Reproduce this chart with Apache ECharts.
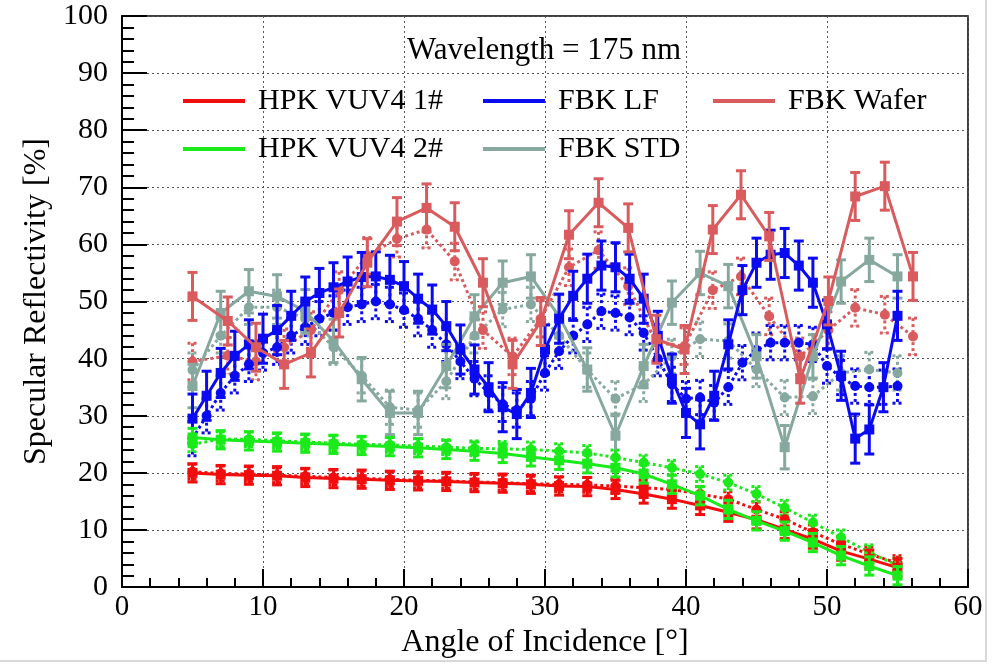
<!DOCTYPE html>
<html><head><meta charset="utf-8">
<script src="https://cdn.jsdelivr.net/npm/echarts@6/dist/echarts.min.js"></script>
<style>html,body{margin:0;padding:0;background:#fff}#c{width:1000px;height:664px}</style>
</head><body><div id="c"></div><script>
// ---- data ----
const titleText = 'Wavelength = 175 nm';
const xTicks = [0, 10, 20, 30, 40, 50, 60];
const yTicks = [0, 10, 20, 30, 40, 50, 60, 70, 80, 90, 100];

const angleHPK = [5,7,9,11,13,15,17,19,21,23,25,27,29,31,33,35,37,39,41,43,45,47,49,51,53,55];
const hpk1   = [20.0,19.7,19.6,19.5,19.2,19.0,18.9,18.7,18.6,18.5,18.3,18.2,18.0,17.7,17.6,17.1,16.3,15.4,14.3,13.1,11.8,10.1,8.4,6.3,4.9,3.4];
const hpk1b  = [20.2,19.9,19.8,19.6,19.4,19.2,19.0,18.9,18.7,18.6,18.4,18.3,18.1,18.0,17.9,17.7,17.4,17.1,16.3,15.4,13.6,11.9,9.6,7.5,5.8,4.2];
const hpk2   = [26.2,25.8,25.6,25.4,25.2,25.0,24.8,24.6,24.4,24.1,23.8,23.4,22.8,22.2,21.6,20.9,19.8,18.0,16.0,13.6,11.6,9.8,7.8,5.5,3.7,2.0];
const hpk2b  = [25.0,25.9,25.9,25.6,25.4,25.2,25.0,24.9,24.7,24.5,24.3,24.2,24.1,23.8,23.5,22.7,21.8,20.9,19.8,18.3,16.3,13.9,11.3,8.7,6.1,3.8];

const angleLF = [5,6,7,8,9,10,11,12,13,14,15,16,17,18,19,20,21,22,23,24,25,26,27,28,29,30,31,32,33,34,35,36,37,38,39,40,41,42,43,44,45,46,47,48,49,50,51,52,53,54,55];
const fbkLF  = [29.5,33.5,37.5,40.5,42.5,43.5,45,47.5,50,51.5,52.5,53.5,54.3,54.4,53.8,52.7,50.5,48.6,45.7,41.6,38.1,35,31.5,30.3,34,41.6,47,51,54,56.3,56,54,50.5,44,36.5,30.5,28.5,33.5,42.5,52,56.8,58.2,58.5,56.3,53.3,46,37,26,27.6,35,47.5];
const fbkLFb = [26,30,34,37,39,41,42,44,45.5,47,48,49,49.5,50,49.5,48.5,47,45,42.5,39.5,36.5,34,32,31,33,37.5,41.3,44,46,48.3,48,47.2,44.5,40,35.5,33,33.2,32.3,35,39.3,41.5,42.8,42.8,42.8,42.5,38.7,36.7,35.2,35,35,35.2];

const angleSTD = [5,7,9,11,13,15,17,19,21,23,25,27,29,31,33,35,37,39,41,43,45,47,49,51,53,55];
const fbkSTD  = [35.2,48.0,51.8,50.9,48.3,43.1,36.4,30.5,30.5,38.7,47.4,53.3,54.4,47.4,38.1,26.5,38.7,49.8,55.0,52.7,40.4,24.5,40.4,53.5,57.3,54.4];
const fbkSTDb = [38,44,49,49,47,42,37,31.5,31,36,44,48.6,49.5,44,38,33,35.5,40.4,43.4,43.1,38.1,33.2,33.4,37.5,38.1,37.5];

const angleWafer = [5,7.5,9.5,11.5,13.4,15.4,17.4,19.5,21.6,23.6,25.6,27.7,29.7,31.7,33.8,35.9,37.9,39.9,41.9,43.9,45.9,48.1,50.1,52.0,54.1,56.1];
const fbkWafer  = [50.9,46.6,42.0,39.0,41.0,48.0,56.8,64.0,66.4,63.1,53.3,39.0,46.5,61.7,67.3,62.9,43.4,41.6,62.6,68.7,61.4,36.4,50.1,68.4,70.2,54.4];
const fbkWaferb = [39.5,40.5,39.5,42,45,52,58,61,62.6,57,45,40.4,47,56,59,52.7,42.8,42.2,52,54.4,47.4,40.4,45,48.9,47.7,43.9];

// error half-widths
const errHPK = 1.6, errHPKb = 1.3;
const errLF = 4.3, errLFb = 3.0;
const errSTD = 3.8, errSTDb = 3.0;
const errWafer = 4.2, errWaferb = 3.2;

const names = ['HPK VUV4 1#', 'HPK VUV4 2#', 'FBK LF', 'FBK STD', 'FBK Wafer'];
const colors = {red:'#f20d0d', green:'#1aea1a', blue:'#0b0bf2', std:'#86a89f', wafer:'#d95b5e'};

const FONT = 'Liberation Serif';
const chart = echarts.init(document.getElementById('c'), null, {renderer:'canvas'});

function pairs(xs, ys){ return xs.map((x,i)=>[x, ys[i]]); }

function lineSeries(name, xs, ys, color, dotted, z){
  return {
    type:'line', name:name, data:pairs(xs, ys), z:z,
    symbol: dotted ? 'circle' : 'rect', symbolSize: dotted ? 10 : 10,
    showSymbol:true, animation:false, silent:true,
    lineStyle:{color:color, width:3, type: dotted ? [3,3] : 'solid'},
    itemStyle:{color:color}
  };
}
function errSeries(xs, ys, err, color, dotted, z){
  return {
    type:'custom', name:'', z:z, animation:false, silent:true,
    data: xs.map((x,i)=>[x, ys[i], err]),
    encode:{x:0, y:1},
    renderItem: function(params, api){
      const x = api.value(0), y = api.value(1), e = api.value(2);
      const t = api.coord([x, y + e]), b = api.coord([x, y - e]);
      const cap = 5;
      const st = () => ({stroke:color, lineWidth:3, lineDash: dotted ? [3,3] : null});
      return {type:'group', children:[
        {type:'line', shape:{x1:t[0], y1:t[1], x2:b[0], y2:b[1]}, style:st()},
        {type:'line', shape:{x1:t[0]-cap, y1:t[1], x2:t[0]+cap, y2:t[1]}, style:st()},
        {type:'line', shape:{x1:b[0]-cap, y1:b[1], x2:b[0]+cap, y2:b[1]}, style:st()}
      ]};
    }
  };
}

const series = [
  errSeries(angleSTD, fbkSTDb, errSTDb, colors.std, true, 2),
  lineSeries('STD b', angleSTD, fbkSTDb, colors.std, true, 2),
  errSeries(angleWafer, fbkWaferb, errWaferb, colors.wafer, true, 2),
  lineSeries('Wafer b', angleWafer, fbkWaferb, colors.wafer, true, 2),
  errSeries(angleLF, fbkLFb, errLFb, colors.blue, true, 2),
  lineSeries('LF b', angleLF, fbkLFb, colors.blue, true, 2),
  errSeries(angleSTD, fbkSTD, errSTD, colors.std, false, 3),
  lineSeries(names[3], angleSTD, fbkSTD, colors.std, false, 3),
  errSeries(angleLF, fbkLF, errLF, colors.blue, false, 4),
  lineSeries(names[2], angleLF, fbkLF, colors.blue, false, 4),
  errSeries(angleWafer, fbkWafer, errWafer, colors.wafer, false, 5),
  lineSeries(names[4], angleWafer, fbkWafer, colors.wafer, false, 5),
  errSeries(angleHPK, hpk1b, errHPKb, colors.red, true, 6),
  lineSeries('HPK1 b', angleHPK, hpk1b, colors.red, true, 6),
  errSeries(angleHPK, hpk2b, errHPKb, colors.green, true, 6),
  lineSeries('HPK2 b', angleHPK, hpk2b, colors.green, true, 6),
  errSeries(angleHPK, hpk1, errHPK, colors.red, false, 7),
  lineSeries(names[0], angleHPK, hpk1, colors.red, false, 7),
  errSeries(angleHPK, hpk2, errHPK, colors.green, false, 8),
  lineSeries(names[1], angleHPK, hpk2, colors.green, false, 8)
];

const legText = {fontFamily:FONT, fontSize:30, color:'#000', lineHeight:30, padding:[0,0,0,8]};
function legend(left, data){
  return {left:left, top:81, orient:'vertical', itemGap:18, itemWidth:62, itemHeight:4,
    icon:'rect', selectedMode:false, data:data, textStyle:legText};
}

const gridLine = {show:true, lineStyle:{color:'#555', width:1, type:[2,3]}};
chart.setOption({
  animation:false,
  backgroundColor:'#fff',
  title:{text:titleText, left:402, top:30, textStyle:{fontFamily:FONT, fontSize:31, fontWeight:'normal', color:'#000'}},
  legend:[legend(178, [names[0], names[1]]), legend(478, [names[2], names[3]]), legend(708, [names[4]])],
  grid:{left:122, right:32, top:16, bottom:76, show:true, borderColor:'#000', borderWidth:1.5, backgroundColor:'transparent'},
  xAxis:{type:'value', min:xTicks[0], max:xTicks[xTicks.length-1], interval:10,
    axisLine:{lineStyle:{color:'#000', width:2}},
    axisTick:{inside:true, length:18, lineStyle:{color:'#000', width:2}},
    minorTick:{show:true, splitNumber:5, length:9, lineStyle:{color:'#000', width:2}},
    splitLine:gridLine,
    axisLabel:{fontFamily:FONT, fontSize:29, color:'#000', margin:6},
    name:'Angle of Incidence [°]', nameLocation:'middle', nameGap:33,
    nameTextStyle:{fontFamily:FONT, fontSize:32, color:'#000'}},
  yAxis:{type:'value', min:yTicks[0], max:yTicks[yTicks.length-1], interval:10,
    axisLine:{lineStyle:{color:'#000', width:2}},
    axisTick:{inside:true, length:25, lineStyle:{color:'#000', width:2}},
    minorTick:{show:true, splitNumber:5, length:12, lineStyle:{color:'#000', width:2}},
    splitLine:gridLine,
    axisLabel:{fontFamily:FONT, fontSize:30, color:'#000', margin:14},
    name:'Specular Reflectivity [%]', nameLocation:'middle', nameGap:68,
    nameTextStyle:{fontFamily:FONT, fontSize:32, color:'#000'}},
  graphic:[
    {type:'line', shape:{x1:986, y1:0, x2:986, y2:662}, style:{stroke:'#d8d8d8', lineWidth:2}, silent:true},
    {type:'line', shape:{x1:0, y1:661, x2:986, y2:661}, style:{stroke:'#d8d8d8', lineWidth:2}, silent:true}
  ],
  series:series
});
</script></body></html>
